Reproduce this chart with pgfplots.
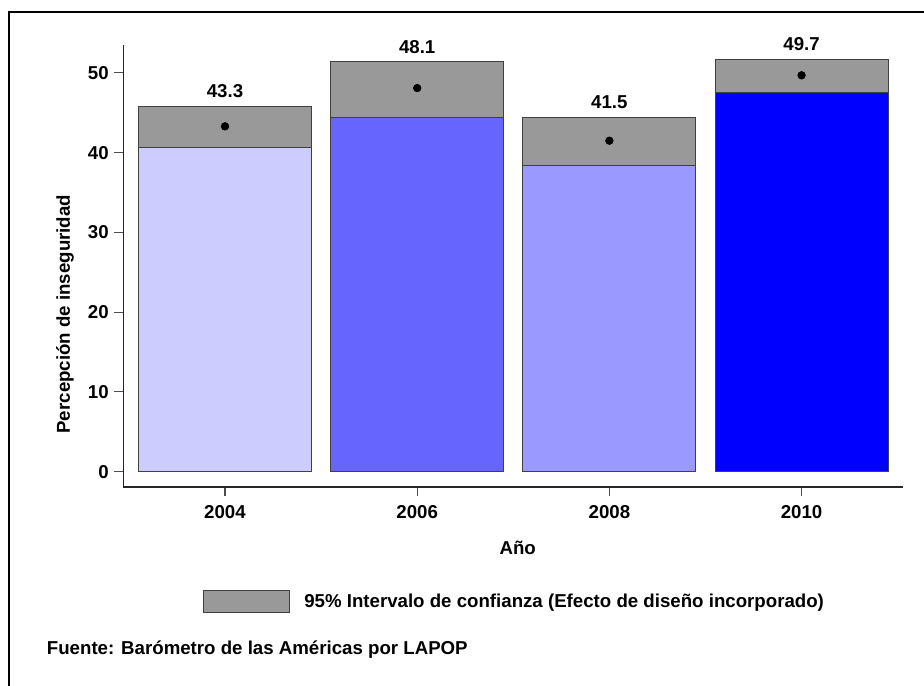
\documentclass[border=0pt]{standalone}
\usepackage{fontspec}
\setmainfont{Liberation Sans}
\usepackage{pgfplots}
\usepackage{pgfplotstable}
\pgfplotsset{compat=1.18}
\definecolor{cA}{HTML}{CCCCFF}
\definecolor{cB}{HTML}{6666FF}
\definecolor{cC}{HTML}{9999FF}
\definecolor{cD}{HTML}{0000FF}
\definecolor{ciGray}{HTML}{999999}
\definecolor{edge}{HTML}{404040}
\pgfplotstableread{
x lo hi mean
0 40.7 45.8 43.3
1 44.4 51.4 48.1
2 38.4 44.4 41.5
3 47.5 51.7 49.7
}\citable
\begin{document}
\begin{tikzpicture}[font=\fontsize{14}{17}\selectfont\bfseries]
\useasboundingbox (0,0) rectangle (693pt,513.75pt);
\draw[line width=1.6pt, black] (6.75pt,-5pt) -- (6.75pt,504.75pt) -- (700pt,504.75pt);
\begin{axis}[
  at={(92.5pt,148.5pt)}, anchor=south west,
  scale only axis, width=584.5pt, height=331.5pt,
  xmin=-0.529, xmax=3.526, ymin=-1.92, ymax=53.5,
  axis lines=left,
  axis line style={-, line width=0.9pt, draw=black!85},
  tick align=outside,
  major tick length=6.75pt,
  tick style={line width=0.8pt, draw=black!70},
  xtick={0,1,2,3},
  xticklabels={2004,2006,2008,2010},
  ytick={0,10,20,30,40,50},
  /pgf/number format/assume math mode=true,
  xticklabel style={anchor=center, yshift=-12pt},
  yticklabel style={anchor=east, inner sep=0pt, xshift=-4pt},
  xlabel={Año},
  ylabel={Percepción de inseguridad},
  xlabel style={at={(axis description cs:0.506,-0.138)}, anchor=center},
  ylabel style={at={(axis description cs:-0.0748,0.391)}, anchor=center},
  legend style={draw=none, fill=none, inner sep=0pt, outer sep=0pt,
    at={(axis description cs:0.1026,-0.259)}, anchor=west,
    nodes={inner sep=0pt}, /tikz/column sep=10.5pt},
  legend cell align=left,
]
\addplot[ybar, bar width=129.75pt, bar shift=0pt, fill=ciGray, draw=edge, line width=0.75pt,
  nodes near coords, point meta=explicit symbolic,
  nodes near coords style={anchor=center, yshift=11.25pt, black},
  legend image code/.code={\draw[fill=ciGray, draw=edge, line width=0.75pt] (0pt,-8.1pt) rectangle (64.5pt,8.1pt);}]
  table[x=x, y=hi, meta=mean] {\citable};
\addlegendentry{95\% Intervalo de confianza (Efecto de diseño incorporado)}
\addplot[ybar, bar width=129.75pt, bar shift=0pt, fill=cA, draw=edge, line width=0.75pt, forget plot] coordinates {(0,40.7)};
\addplot[ybar, bar width=129.75pt, bar shift=0pt, fill=cB, draw=edge, line width=0.75pt, forget plot] coordinates {(1,44.4)};
\addplot[ybar, bar width=129.75pt, bar shift=0pt, fill=cC, draw=edge, line width=0.75pt, forget plot] coordinates {(2,38.4)};
\addplot[ybar, bar width=129.75pt, bar shift=0pt, fill=cD, draw=edge, line width=0.75pt, forget plot] coordinates {(3,47.5)};
\addplot[only marks, mark=*, mark size=2.9pt, black, forget plot] table[x=x, y=mean] {\citable};
\end{axis}
\node[anchor=west, inner sep=0pt] at (35pt,26.25pt) {Fuente: Barómetro de las Américas por LAPOP};
\end{tikzpicture}
\end{document}
